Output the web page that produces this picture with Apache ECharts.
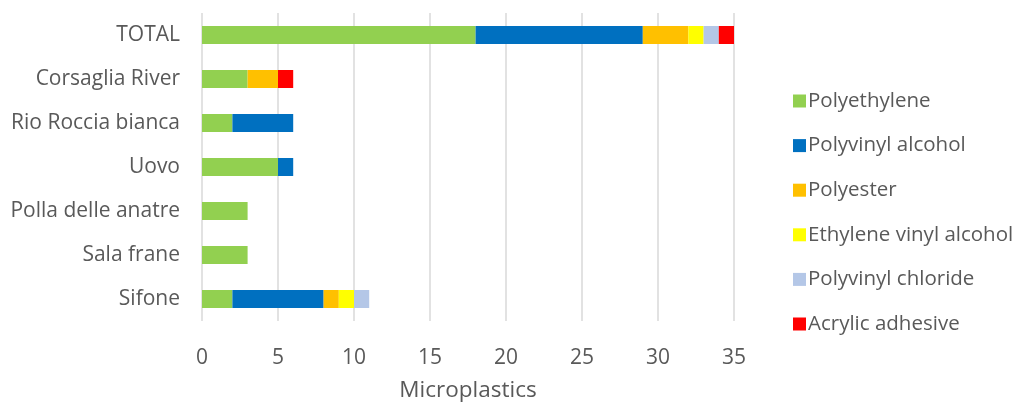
<!DOCTYPE html>
<html>
<head>
<meta charset="utf-8">
<script src="https://cdn.jsdelivr.net/npm/echarts@6/dist/echarts.min.js"></script>
<style>
  html, body { margin: 0; padding: 0; background: #fff; }
  #chart { width: 1020px; height: 403px; }
</style>
</head>
<body>
<div id="chart"></div>
<script>
// Sampling sites, bottom to top as drawn on the category axis
const sites = ['Sifone', 'Sala frane', 'Polla delle anatre', 'Uovo', 'Rio Roccia bianca', 'Corsaglia River', 'TOTAL'];

// Microplastic counts per polymer type, one value per site
const polyethylene       = [2, 3, 3, 5, 2, 3, 18];
const polyvinylAlcohol   = [6, 0, 0, 1, 4, 0, 11];
const polyester          = [1, 0, 0, 0, 0, 2, 3];
const ethyleneVinylAlc   = [1, 0, 0, 0, 0, 0, 1];
const polyvinylChloride  = [1, 0, 0, 0, 0, 0, 1];
const acrylicAdhesive    = [0, 0, 0, 0, 0, 1, 1];

const xTicks = [0, 5, 10, 15, 20, 25, 30, 35];

const seriesDefs = [
  { name: 'Polyethylene', data: polyethylene, color: '#92D050' },
  { name: 'Polyvinyl alcohol', data: polyvinylAlcohol, color: '#0070C0' },
  { name: 'Polyester', data: polyester, color: '#FFC000' },
  { name: 'Ethylene vinyl alcohol', data: ethyleneVinylAlc, color: '#FFFF00' },
  { name: 'Polyvinyl chloride', data: polyvinylChloride, color: '#B4C7E7' },
  { name: 'Acrylic adhesive', data: acrylicAdhesive, color: '#FF0000' }
];

const font = '"Open Sans", "Noto Sans", sans-serif';
const textColor = '#595959';

const chart = echarts.init(document.getElementById('chart'), null, { renderer: 'canvas' });
chart.setOption({
  animation: false,
  textStyle: { fontFamily: font },
  grid: { left: 202, right: 286, top: 13, bottom: 82, containLabel: false, outerBoundsMode: 'none' },
  legend: {
    orient: 'vertical',
    left: 788,
    top: 85,
    icon: 'rect',
    itemWidth: 13,
    itemHeight: 13,
    itemGap: 22.6,
    textStyle: { fontFamily: font, fontSize: 20.5, color: textColor, lineHeight: 22, padding: [0, 0, 0, -3] },
    data: seriesDefs.map(s => s.name)
  },
  xAxis: {
    type: 'value',
    min: xTicks[0],
    max: xTicks[xTicks.length - 1],
    interval: 5,
    name: 'Microplastics',
    nameLocation: 'middle',
    nameGap: 58,
    nameTextStyle: { fontFamily: font, fontSize: 22.5, color: textColor },
    axisLine: { show: false },
    axisTick: { show: false },
    axisLabel: { fontFamily: font, fontSize: 21, color: textColor, margin: 27 },
    splitLine: { show: true, lineStyle: { color: '#D9D9D9', width: 1.5 } }
  },
  yAxis: {
    type: 'category',
    data: sites,
    axisLine: { show: false },
    axisTick: { show: false },
    axisLabel: { fontFamily: font, fontSize: 21, color: textColor, margin: 22, padding: [14, 0, 0, 0] },
    splitLine: { show: false }
  },
  series: seriesDefs.map(s => ({
    name: s.name,
    type: 'bar',
    stack: 'total',
    barWidth: 18,
    itemStyle: { color: s.color },
    data: s.data.map(v => v === 0 ? null : v)
  }))
});
</script>
</body>
</html>
